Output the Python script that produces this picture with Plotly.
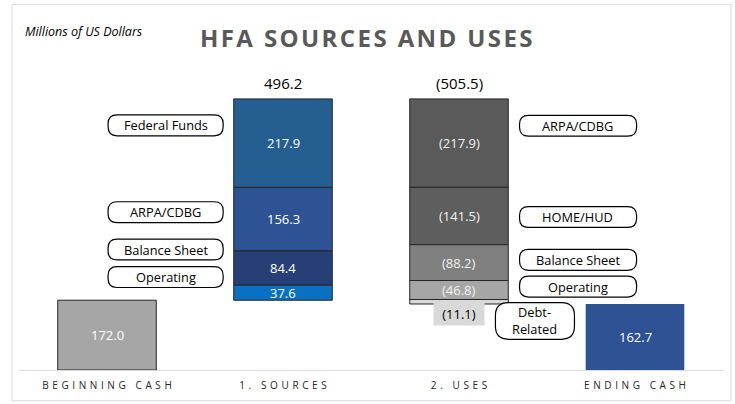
import plotly.graph_objects as go

# ---- data ----
categories = ["BEGINNING CASH", "1. SOURCES", "2. USES", "ENDING CASH"]
beginning_cash = 172.0
source_names = ["Operating", "Balance Sheet", "ARPA/CDBG", "Federal Funds"]  # bottom -> top
source_values = [37.6, 84.4, 156.3, 217.9]
source_colors = ["#0A70C2", "#263F77", "#2E5395", "#255E91"]
use_names = ["ARPA/CDBG", "HOME/HUD", "Balance Sheet", "Operating", "Debt-Related"]  # top -> bottom
use_values = [217.9, 141.5, 88.2, 46.8, 11.1]
use_colors = ["#5A5A5A", "#5E5E5E", "#808080", "#A6A6A6", "#D9D9D9"]
ending_cash = 162.7

# pill label positions (data units)
left_pills = [("Federal Funds", 603), ("ARPA/CDBG", 389), ("Balance Sheet", 297), ("Operating", 229)]
right_pills = [("ARPA/CDBG", 602), ("HOME/HUD", 377), ("Balance Sheet", 271.5), ("Operating", 205.5)]

FONT = "Open Sans"
BAR_W = 0.56
EDGE = "#262626"
W, H = 735, 404
ML, MR, MT, MB = 19, 12, 86, 32
PW, PH = W - ML - MR, H - MT - MB

def px_to_paper_x(px):
    return (px - ML) / PW

def px_to_paper_y(py):
    return (H - MB - py) / PH

fig = go.Figure()
annotations = []

def fmt(v, neg=False):
    return f"({v:.1f})" if neg else f"{v:.1f}"

LBL = dict(color="white", size=13, family=FONT)

# beginning cash
fig.add_bar(x=[0], y=[beginning_cash], base=[0], width=BAR_W,
            marker=dict(color="#A6A6A6", line=dict(color=EDGE, width=1)))
annotations.append(dict(x=0, y=beginning_cash / 2, text=fmt(beginning_cash),
                        showarrow=False, font=LBL))

# sources stacked
bottom = beginning_cash
for name, v, c in zip(source_names, source_values, source_colors):
    fig.add_bar(x=[1], y=[v], base=[bottom], width=BAR_W,
                marker=dict(color=c, line=dict(color=EDGE, width=1)))
    annotations.append(dict(x=1, y=bottom + v / 2, text=fmt(v), showarrow=False, font=LBL))
    bottom += v
top_total = bottom
annotations.append(dict(x=1, y=top_total, yshift=16, text=fmt(sum(source_values)),
                        showarrow=False, font=dict(color="black", size=15, family=FONT)))

# uses stacked downward
top = top_total
for i, (name, v, c) in enumerate(zip(use_names, use_values, use_colors)):
    b = top - v
    fig.add_bar(x=[2], y=[v], base=[b], width=BAR_W,
                marker=dict(color=c, line=dict(color=EDGE, width=1)))
    if i < len(use_values) - 1:
        annotations.append(dict(x=2, y=b + v / 2, text=fmt(v, True), showarrow=False,
                                font=dict(color="#F2F2F2", size=13, family=FONT)))
    else:
        annotations.append(dict(x=2, y=b, yanchor="top", yshift=2, text=fmt(v, True),
                                showarrow=False, bgcolor="#D9D9D9", borderpad=0,
                                width=50, height=22,
                                font=dict(color="black", size=13, family=FONT)))
    top = b
annotations.append(dict(x=2, y=top_total, yshift=16, text=fmt(sum(use_values), True),
                        showarrow=False, font=dict(color="black", size=15, family=FONT)))

# ending cash
fig.add_bar(x=[3], y=[ending_cash], base=[0], width=BAR_W,
            marker=dict(color="#2E5395", line=dict(width=0)))
annotations.append(dict(x=3, y=ending_cash / 2, text=fmt(ending_cash), showarrow=False, font=LBL))

# pills
YMAX = 700.0
PX_X = PW / 4.0
PX_Y = PH / YMAX
shapes = []

def pill(x0, x1, yc, h_px, r_px=9):
    h = h_px / PX_Y
    y0, y1 = yc - h / 2, yc + h / 2
    rx, ry = r_px / PX_X, r_px / PX_Y
    p = (f"M {x0+rx},{y1} L {x1-rx},{y1} Q {x1},{y1} {x1},{y1-ry} "
         f"L {x1},{y0+ry} Q {x1},{y0} {x1-rx},{y0} L {x0+rx},{y0} "
         f"Q {x0},{y0} {x0},{y0+ry} L {x0},{y1-ry} Q {x0},{y1} {x0+rx},{y1} Z")
    shapes.append(dict(type="path", path=p, xref="x", yref="y",
                       line=dict(color="black", width=1.2), fillcolor="white", layer="above"))

PILL_FONT = dict(color="black", size=12.8, family=FONT)
for name, yc in left_pills:
    pill(0.006, 0.66, yc, 21)
    annotations.append(dict(x=0.333, y=yc, text=name, showarrow=False, font=PILL_FONT))
for name, yc in right_pills:
    pill(2.344, 3.009, yc, 21)
    annotations.append(dict(x=2.676, y=yc, text=name, showarrow=False, font=PILL_FONT))
pill(2.207, 2.656, 121, 37, 13)
annotations.append(dict(x=2.43, y=121, text="Debt-<br>Related", showarrow=False, font=PILL_FONT))

# outer border
shapes.append(dict(type="rect", xref="paper", yref="paper",
                   x0=px_to_paper_x(12), x1=px_to_paper_x(731),
                   y0=px_to_paper_y(403), y1=px_to_paper_y(4),
                   line=dict(color="#D9D9D9", width=1), fillcolor="rgba(0,0,0,0)", layer="below"))

# titles
annotations.append(dict(xref="paper", yref="paper", x=px_to_paper_x(23), y=px_to_paper_y(31),
                        xanchor="left", yanchor="middle", text="<i>Millions of US Dollars</i>",
                        showarrow=False, font=dict(color="black", size=12.5, family=FONT)))
annotations.append(dict(xref="paper", yref="paper", x=px_to_paper_x(366), y=px_to_paper_y(37),
                        xanchor="center", yanchor="middle",
                        text="<b>" + "\u200a".join("HFA SOURCES AND USES") + "</b>", showarrow=False,
                        font=dict(color="#595959", size=24, family=FONT)))

def spaced(s):
    return "\u00a0\u200a".join(s.replace(" ", "\u00a0"))

fig.update_layout(
    width=W, height=H,
    margin=dict(l=ML, r=MR, t=MT, b=MB),
    paper_bgcolor="white", plot_bgcolor="white",
    showlegend=False, barmode="overlay",
    annotations=annotations, shapes=shapes,
    xaxis=dict(range=[-0.5, 3.5], tickvals=[0, 1, 2, 3], ticktext=[spaced(c) for c in categories],
               showline=True, linecolor="#D9D9D9", linewidth=1, showgrid=False, zeroline=False,
               ticks="", ticklabelstandoff=6,
               tickfont=dict(color="#262626", size=10, family=FONT), fixedrange=True),
    yaxis=dict(range=[0, YMAX], visible=False, fixedrange=True),
)

fig.write_html("out.html", config={"displayModeBar": False},
               post_script="document.body.style.margin='0';")
